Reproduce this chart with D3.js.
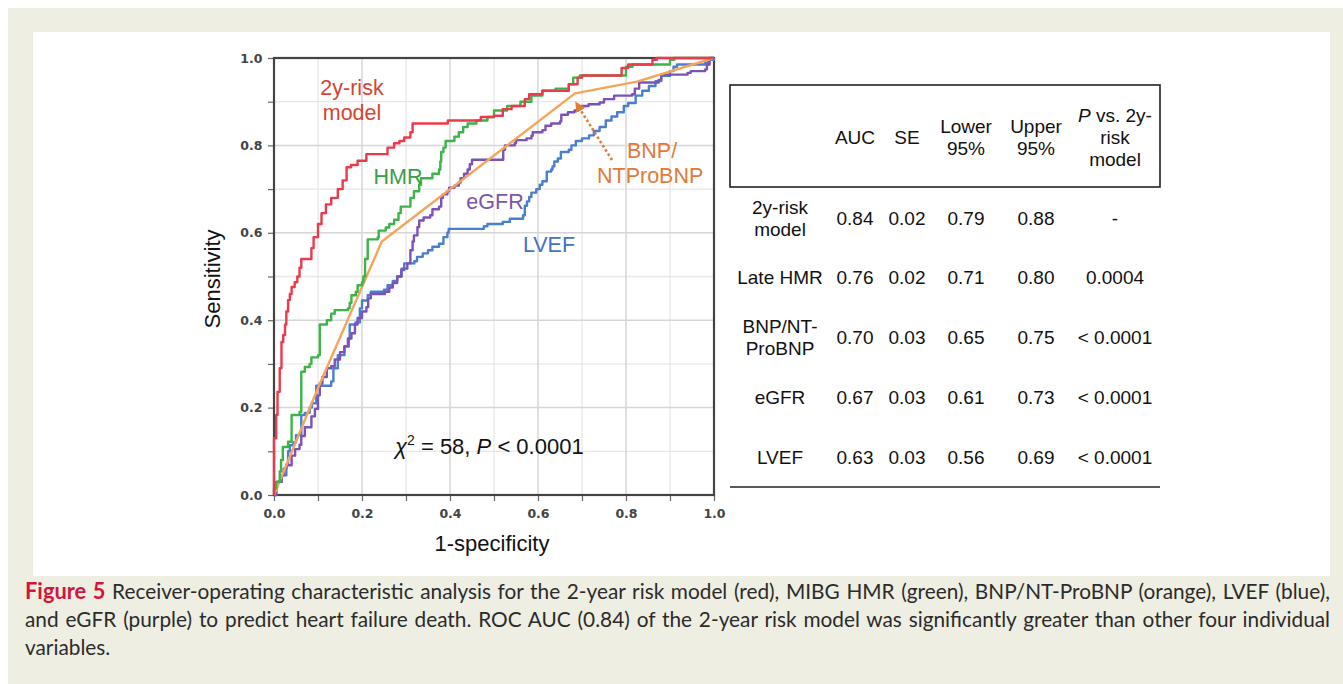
<!DOCTYPE html>
<html>
<head>
<meta charset="utf-8">
<script src="https://cdn.jsdelivr.net/npm/d3@7"></script>
<style>
  html, body { margin: 0; padding: 0; background: #fff; }
  svg { display: block; }
</style>
</head>
<body>
<div id="chart"></div>
<script>
// ROC curves: [1-specificity, sensitivity]
const riskModel = [[0,0],[0,0.13],[0.005,0.183],[0.008,0.236],[0.013,0.29],[0.017,0.35],[0.021,0.366],[0.025,0.39],[0.028,0.42],[0.032,0.446],[0.036,0.46],[0.04,0.476],[0.047,0.487],[0.053,0.5],[0.058,0.52],[0.062,0.54],[0.085,0.565],[0.09,0.59],[0.1,0.62],[0.108,0.645],[0.118,0.665],[0.13,0.68],[0.145,0.7],[0.156,0.72],[0.165,0.75],[0.175,0.755],[0.19,0.765],[0.21,0.78],[0.258,0.795],[0.273,0.805],[0.285,0.81],[0.296,0.818],[0.31,0.83],[0.315,0.85],[0.395,0.857],[0.47,0.865],[0.5,0.868],[0.52,0.883],[0.54,0.89],[0.57,0.906],[0.58,0.917],[0.61,0.925],[0.67,0.94],[0.69,0.955],[0.7,0.96],[0.79,0.977],[0.805,0.985],[0.86,0.996],[0.87,1],[1,1]];
const hmr = [[0,0],[0,0.015],[0.005,0.03],[0.013,0.054],[0.016,0.08],[0.02,0.11],[0.032,0.122],[0.04,0.183],[0.058,0.19],[0.062,0.282],[0.07,0.293],[0.081,0.3],[0.085,0.315],[0.1,0.32],[0.104,0.39],[0.12,0.4],[0.13,0.415],[0.138,0.423],[0.168,0.427],[0.172,0.44],[0.176,0.457],[0.186,0.465],[0.19,0.48],[0.2,0.487],[0.203,0.5],[0.207,0.54],[0.213,0.585],[0.236,0.59],[0.238,0.605],[0.254,0.612],[0.262,0.62],[0.273,0.63],[0.283,0.645],[0.288,0.66],[0.31,0.68],[0.318,0.695],[0.33,0.71],[0.334,0.725],[0.36,0.735],[0.375,0.745],[0.378,0.763],[0.38,0.785],[0.385,0.795],[0.39,0.81],[0.41,0.82],[0.42,0.83],[0.43,0.842],[0.44,0.85],[0.46,0.857],[0.485,0.865],[0.5,0.88],[0.53,0.89],[0.56,0.9],[0.585,0.914],[0.61,0.925],[0.64,0.93],[0.67,0.94],[0.68,0.955],[0.695,0.96],[0.8,0.98],[0.815,0.985],[0.9,0.996],[0.91,1],[1,1]];
const bnp = [[0,0],[0.1,0.245],[0.245,0.58],[0.684,0.919],[0.825,0.946],[1,1]];
const egfr = [[0,0],[0.005,0.03],[0.017,0.045],[0.022,0.06],[0.028,0.068],[0.04,0.09],[0.048,0.105],[0.058,0.115],[0.062,0.135],[0.07,0.155],[0.085,0.18],[0.093,0.197],[0.1,0.228],[0.104,0.255],[0.11,0.27],[0.12,0.29],[0.13,0.295],[0.138,0.31],[0.15,0.327],[0.16,0.34],[0.168,0.358],[0.176,0.37],[0.184,0.39],[0.19,0.405],[0.2,0.42],[0.21,0.43],[0.214,0.45],[0.22,0.46],[0.252,0.465],[0.262,0.475],[0.27,0.485],[0.28,0.5],[0.29,0.518],[0.303,0.53],[0.31,0.56],[0.315,0.58],[0.318,0.594],[0.326,0.613],[0.33,0.628],[0.34,0.635],[0.355,0.64],[0.36,0.654],[0.375,0.66],[0.38,0.68],[0.384,0.688],[0.394,0.695],[0.398,0.703],[0.41,0.708],[0.42,0.715],[0.424,0.725],[0.432,0.735],[0.44,0.745],[0.445,0.757],[0.45,0.767],[0.521,0.79],[0.525,0.8],[0.547,0.805],[0.55,0.812],[0.574,0.816],[0.585,0.822],[0.588,0.83],[0.61,0.835],[0.617,0.845],[0.63,0.85],[0.65,0.855],[0.653,0.87],[0.668,0.876],[0.683,0.88],[0.69,0.885],[0.7,0.89],[0.715,0.894],[0.74,0.898],[0.75,0.906],[0.773,0.914],[0.814,0.917],[0.82,0.93],[0.83,0.944],[0.874,0.95],[0.88,0.962],[0.94,0.966],[0.947,0.97],[0.98,0.974],[0.984,0.985],[0.99,1],[1,1]];
const lvef = [[0,0],[0.005,0.03],[0.017,0.045],[0.028,0.07],[0.032,0.1],[0.036,0.114],[0.044,0.12],[0.05,0.137],[0.062,0.183],[0.07,0.188],[0.081,0.2],[0.086,0.21],[0.096,0.25],[0.13,0.26],[0.135,0.29],[0.145,0.32],[0.16,0.34],[0.17,0.358],[0.172,0.39],[0.185,0.395],[0.195,0.427],[0.2,0.445],[0.213,0.457],[0.22,0.465],[0.25,0.47],[0.258,0.48],[0.27,0.49],[0.28,0.5],[0.289,0.515],[0.296,0.53],[0.319,0.535],[0.325,0.545],[0.338,0.553],[0.35,0.56],[0.36,0.568],[0.375,0.575],[0.385,0.59],[0.394,0.6],[0.397,0.609],[0.477,0.615],[0.485,0.62],[0.52,0.625],[0.536,0.632],[0.566,0.64],[0.57,0.662],[0.575,0.672],[0.58,0.682],[0.585,0.692],[0.596,0.7],[0.604,0.71],[0.61,0.718],[0.62,0.74],[0.63,0.745],[0.633,0.752],[0.637,0.763],[0.645,0.77],[0.652,0.785],[0.67,0.79],[0.676,0.8],[0.686,0.81],[0.7,0.816],[0.716,0.823],[0.727,0.833],[0.74,0.842],[0.754,0.857],[0.767,0.866],[0.78,0.876],[0.795,0.89],[0.805,0.897],[0.822,0.914],[0.837,0.925],[0.852,0.936],[0.867,0.947],[0.88,0.959],[0.9,0.97],[0.908,0.98],[0.916,0.985],[0.98,0.989],[0.987,0.996],[1,1]];

const ticks = [0, 0.2, 0.4, 0.6, 0.8, 1.0];
const minorTicks = [0.1, 0.3, 0.5, 0.7, 0.9];

// table values
const rowLabels = [["2y-risk", "model"], ["Late HMR"], ["BNP/NT-", "ProBNP"], ["eGFR"], ["LVEF"]];
const auc = [0.84, 0.76, 0.70, 0.67, 0.63];
const se = [0.02, 0.02, 0.03, 0.03, 0.03];
const lower95 = [0.79, 0.71, 0.65, 0.61, 0.56];
const upper95 = [0.88, 0.80, 0.75, 0.73, 0.69];
const pVsRisk = ["-", "0.0004", "< 0.0001", "< 0.0001", "< 0.0001"];

const captionLines = [
  ["Figure 5", " Receiver-operating characteristic analysis for the 2-year risk model (red), MIBG HMR (green), BNP/NT-ProBNP (orange), LVEF (blue),"],
  ["", "and eGFR (purple) to predict heart failure death. ROC AUC (0.84) of the 2-year risk model was significantly greater than other four individual"],
  ["", "variables."]
];

const W = 1343, H = 684;
const svg = d3.select("#chart").append("svg").attr("width", W).attr("height", H);

// page background + white panel
svg.append("rect").attr("x", 8).attr("y", 8).attr("width", W - 8).attr("height", H - 8).attr("fill", "#eeeee3");
svg.append("rect").attr("x", 33).attr("y", 32).attr("width", 1297).attr("height", 544).attr("fill", "#fff");

const x = d3.scaleLinear().domain([0, 1]).range([274, 714]);
const y = d3.scaleLinear().domain([0, 1]).range([495, 58]);

const font = "'Liberation Sans', Arial, sans-serif";

// grid
const grid = svg.append("g");
grid.selectAll(".vmin").data(minorTicks).enter().append("line")
  .attr("x1", d => x(d)).attr("x2", d => x(d)).attr("y1", y(0)).attr("y2", y(1))
  .attr("stroke", "#e8e8e8").attr("stroke-width", 1.3);
grid.selectAll(".hmin").data(minorTicks).enter().append("line")
  .attr("y1", d => y(d)).attr("y2", d => y(d)).attr("x1", x(0)).attr("x2", x(1))
  .attr("stroke", "#e8e8e8").attr("stroke-width", 1.3);
grid.selectAll(".vmaj").data(ticks.slice(1, -1)).enter().append("line")
  .attr("x1", d => x(d)).attr("x2", d => x(d)).attr("y1", y(0)).attr("y2", y(1))
  .attr("stroke", "#d6d6d6").attr("stroke-width", 1.5);
grid.selectAll(".hmaj").data(ticks.slice(1, -1)).enter().append("line")
  .attr("y1", d => y(d)).attr("y2", d => y(d)).attr("x1", x(0)).attr("x2", x(1))
  .attr("stroke", "#d6d6d6").attr("stroke-width", 1.5);

// axes
const xAxis = d3.axisBottom(x).tickValues(ticks.concat(minorTicks)).tickSize(6)
  .tickFormat(d => ticks.includes(d) ? d3.format(".1f")(d) : "");
const yAxis = d3.axisLeft(y).tickValues(ticks.concat(minorTicks)).tickSize(6)
  .tickFormat(d => ticks.includes(d) ? d3.format(".1f")(d) : "");

const gx = svg.append("g").attr("transform", `translate(0,${y(0)})`).call(xAxis);
const gy = svg.append("g").attr("transform", `translate(${x(0)},0)`).call(yAxis);
[gx, gy].forEach(g => {
  g.select(".domain").remove();
  g.selectAll(".tick line").attr("stroke", "#666").attr("stroke-width", 1.2);
  g.selectAll(".tick text").attr("font-family", "'DejaVu Sans', sans-serif")
    .attr("font-size", 12.5).attr("font-weight", "bold").attr("fill", "#444");
});
gx.selectAll(".tick text").attr("dy", "1.1em");
gy.selectAll(".tick text").attr("dx", "-0.2em");

// frame
svg.append("rect").attr("x", x(0)).attr("y", y(1)).attr("width", x(1) - x(0)).attr("height", y(0) - y(1))
  .attr("fill", "none").attr("stroke", "#444").attr("stroke-width", 2.2);

// curves
const stepLine = d3.line().x(d => x(d[0])).y(d => y(d[1])).curve(d3.curveStepAfter);
const straightLine = d3.line().x(d => x(d[0])).y(d => y(d[1]));

const curves = [
  { data: lvef, color: "#4a7fd0", gen: stepLine },
  { data: egfr, color: "#7d52b8", gen: stepLine },
  { data: bnp, color: "#f6a45a", gen: straightLine },
  { data: hmr, color: "#3db34a", gen: stepLine },
  { data: riskModel, color: "#ec3a4c", gen: stepLine }
];
svg.append("g").selectAll("path").data(curves).enter().append("path")
  .attr("d", d => d.gen(d.data))
  .attr("fill", "none")
  .attr("stroke", d => d.color)
  .attr("stroke-width", 2.4)
  .attr("stroke-linejoin", "round");

// curve labels
const labels = [
  { t: "2y-risk", x: 352, y: 87, c: "#d5452f", a: "middle" },
  { t: "model", x: 352, y: 112, c: "#d5452f", a: "middle" },
  { t: "HMR", x: 398, y: 176, c: "#3a9d48", a: "middle" },
  { t: "eGFR", x: 495, y: 201, c: "#7d55aa", a: "middle" },
  { t: "LVEF", x: 549, y: 244, c: "#4472c4", a: "middle" },
  { t: "BNP/", x: 627, y: 150, c: "#e07b39", a: "start" },
  { t: "NTProBNP", x: 597, y: 175, c: "#e07b39", a: "start" }
];
svg.append("g").selectAll("text").data(labels).enter().append("text")
  .attr("x", d => d.x).attr("y", d => d.y).attr("dy", "0.35em")
  .attr("text-anchor", d => d.a)
  .attr("font-family", font).attr("font-size", 21.5)
  .attr("fill", d => d.c).text(d => d.t);

// dotted arrow to the BNP curve
svg.append("defs").append("marker")
  .attr("id", "arrowhead").attr("viewBox", "0 0 10 10")
  .attr("refX", 5).attr("refY", 5).attr("markerWidth", 4).attr("markerHeight", 4)
  .attr("orient", "auto-start-reverse")
  .append("path").attr("d", "M0,0 L10,5 L0,10 z").attr("fill", "#e07b39");
svg.append("line")
  .attr("x1", 612).attr("y1", 160).attr("x2", 578).attr("y2", 106)
  .attr("stroke", "#e07b39").attr("stroke-width", 2.6)
  .attr("stroke-dasharray", "2.5,2.5")
  .attr("marker-end", "url(#arrowhead)");

// chi-square text
const chi = svg.append("text").attr("x", 395).attr("y", 454)
  .attr("font-family", font).attr("font-size", 22).attr("fill", "#111");
chi.append("tspan").attr("font-style", "italic").text("χ");
chi.append("tspan").attr("font-size", 14).attr("dy", -9).text("2");
chi.append("tspan").attr("dy", 9).text(" = 58, ");
chi.append("tspan").attr("font-style", "italic").text("P");
chi.append("tspan").text(" < 0.0001");

// axis titles
svg.append("text").attr("x", 492).attr("y", 551).attr("text-anchor", "middle")
  .attr("font-family", font).attr("font-size", 22).attr("fill", "#111").text("1-specificity");
svg.append("text").attr("transform", "translate(220,279) rotate(-90)").attr("text-anchor", "middle")
  .attr("font-family", font).attr("font-size", 22).attr("fill", "#111").text("Sensitivity");

// ---- table ----
const tbl = svg.append("g").attr("font-family", font).attr("font-size", 19).attr("fill", "#111");
tbl.append("rect").attr("x", 730).attr("y", 85).attr("width", 430).attr("height", 102)
  .attr("fill", "none").attr("stroke", "#222").attr("stroke-width", 1.6);
tbl.append("line").attr("x1", 730).attr("x2", 1160).attr("y1", 487).attr("y2", 487)
  .attr("stroke", "#222").attr("stroke-width", 1.6);

const colX = [780, 855, 907, 966, 1036, 1115];
const rowY = d3.scalePoint().domain(d3.range(rowLabels.length)).range([218, 457]);
const lh = 22;

function multiline(g, lines, cx, cy) {
  const t = g.append("text").attr("x", cx).attr("text-anchor", "middle");
  lines.forEach((ln, i) => {
    t.append("tspan").attr("x", cx)
      .attr("y", cy + (i - (lines.length - 1) / 2) * lh).attr("dy", "0.35em").text(ln);
  });
  return t;
}

// header
multiline(tbl, ["AUC"], colX[1], 137);
multiline(tbl, ["SE"], colX[2], 137);
multiline(tbl, ["Lower", "95%"], colX[3], 137);
multiline(tbl, ["Upper", "95%"], colX[4], 137);
const ph = tbl.append("text").attr("text-anchor", "middle");
const pLine1 = ph.append("tspan").attr("x", colX[5]).attr("y", 115).attr("dy", "0.35em");
pLine1.append("tspan").attr("font-style", "italic").text("P");
pLine1.append("tspan").text(" vs. 2y-");
ph.append("tspan").attr("x", colX[5]).attr("y", 137).attr("dy", "0.35em").text("risk");
ph.append("tspan").attr("x", colX[5]).attr("y", 159).attr("dy", "0.35em").text("model");

// body
const f2 = d3.format(".2f");
rowLabels.forEach((lab, i) => {
  const cy = rowY(i);
  multiline(tbl, lab, colX[0], cy);
  multiline(tbl, [f2(auc[i])], colX[1], cy);
  multiline(tbl, [f2(se[i])], colX[2], cy);
  multiline(tbl, [f2(lower95[i])], colX[3], cy);
  multiline(tbl, [f2(upper95[i])], colX[4], cy);
  multiline(tbl, [pVsRisk[i]], colX[5], cy);
});

// ---- caption (justified lines) ----
const capX = 25, capW = 1305, capBase = [599, 627, 655];
const capFont = "Lato, 'Open Sans', sans-serif";
// size the font from the first line so that word gaps stay close to normal
const probe = svg.append("text").attr("font-family", capFont).attr("font-size", 20);
probe.append("tspan").attr("font-weight", "bold").text(captionLines[0][0]);
probe.append("tspan").text(captionLines[0][1]);
const nSp0 = (captionLines[0][0] + captionLines[0][1]).split(" ").length - 1;
const capSize = 20 * (capW - nSp0 * 1.5) / probe.node().getComputedTextLength();
probe.remove();

captionLines.forEach((ln, i) => {
  const t = svg.append("text").attr("x", capX).attr("y", capBase[i])
    .attr("font-family", capFont).attr("font-size", capSize).attr("fill", "#2b2b2b");
  if (ln[0]) t.append("tspan").attr("font-weight", "bold").attr("fill", "#d3143c").attr("font-size", capSize * 1.05).text(ln[0]);
  t.append("tspan").text(ln[1]);
  if (i < 2) {
    let len = t.node().getComputedTextLength();
    if (len > capW) {
      t.attr("font-size", capSize * capW / len * 0.99);
      len = t.node().getComputedTextLength();
    }
    const spaces = (ln[0] + ln[1]).split(" ").length - 1;
    t.attr("word-spacing", (capW - len) / spaces);
  }
});
</script>
</body>
</html>
